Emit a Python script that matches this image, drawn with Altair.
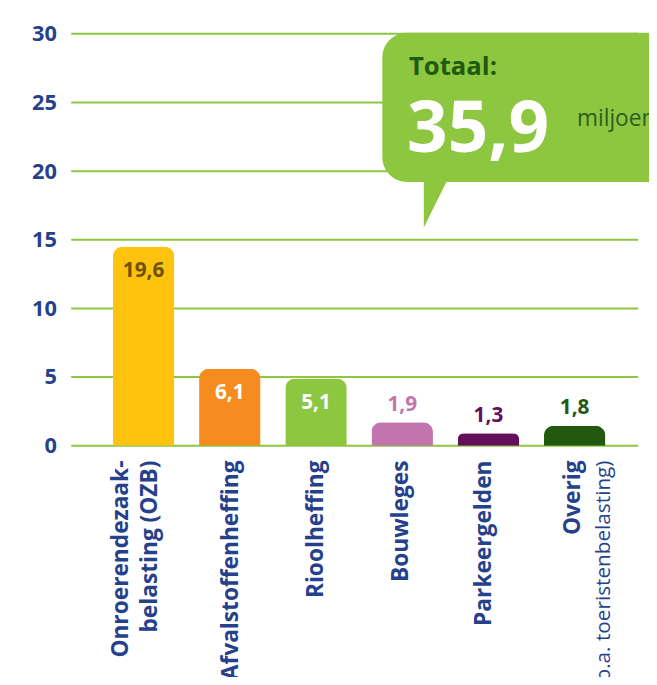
import altair as alt
import pandas as pd

# ---- data ----
cat_keys = ["OZB", "Afval", "Riool", "Bouw", "Parkeer", "Overig"]
bar_heights = [14.5, 5.6, 4.9, 1.7, 0.9, 1.45]          # drawn bar heights
value_labels = ["19,6", "6,1", "5,1", "1,9", "1,3", "1,8"]
bar_colors = ["#fec20f", "#f68c1f", "#8dc63f", "#c174ad", "#640f5c", "#22590f"]
value_label_colors = ["#6b5300", "#ffffff", "#ffffff", "#c174ad", "#640f5c", "#22590f"]
label_inside = [True, True, True, False, False, False]
y_ticks = [0, 5, 10, 15, 20, 25, 30]
total_title = "Totaal:"
total_value = "35,9"
total_unit = "miljoen"

# category label lines: (key, text, offset across, weight, size)
cat_lines = [
    ("OZB", "Onroerendezaak-", -23, "bold", 23),
    ("OZB", "belasting (OZB)", 7, "bold", 23),
    ("Afval", "Afvalstoffenheffing", 1, "bold", 23),
    ("Riool", "Rioolheffing", 0, "bold", 23),
    ("Bouw", "Bouwleges", -1, "bold", 23),
    ("Parkeer", "Parkeergelden", -4, "bold", 23),
    ("Overig", "Overig", -2, "bold", 23),
    ("Overig", "(o.a. toeristenbelasting)", 30, "normal", 21),
]

NAVY = "#26418c"
GREEN = "#8dc63f"
DARKGREEN = "#1f5a12"
FONT = "Open Sans"

W, H = 585, 417

df = pd.DataFrame({
    "cat": cat_keys,
    "h": bar_heights,
    "lab": value_labels,
    "col": bar_colors,
    "lcol": value_label_colors,
    "inside": label_inside,
})
grid_df = pd.DataFrame({"v": y_ticks})
one = pd.DataFrame({"t": [0]})

xscale = alt.Scale(domain=cat_keys, range=[0, 583], paddingInner=0.287, paddingOuter=0.483)
yscale = alt.Scale(domain=[0, 30])

grid = alt.Chart(grid_df).mark_rule(color=GREEN, strokeWidth=2).encode(
    y=alt.Y("v:Q", scale=yscale,
            axis=alt.Axis(values=y_ticks, title=None, domain=False, ticks=False, grid=False,
                          labelFont=FONT, labelFontSize=22, labelFontWeight="bold",
                          labelColor=NAVY, labelPadding=15)),
    x=alt.value(0), x2=alt.value(574),
)

base = alt.Chart(df).encode(
    x=alt.X("cat:N", scale=xscale, axis=None, sort=cat_keys),
)

bars = base.mark_bar(cornerRadiusTopLeft=10, cornerRadiusTopRight=10).encode(
    y=alt.Y("h:Q", scale=yscale),
    color=alt.Color("col:N", scale=None),
)

lab_in = base.transform_filter("datum.inside").mark_text(
    font=FONT, fontSize=21, fontWeight="bold", baseline="middle", dy=25
).encode(y=alt.Y("h:Q", scale=yscale), text="lab:N", color=alt.Color("lcol:N", scale=None))

lab_out = base.transform_filter("!datum.inside").mark_text(
    font=FONT, fontSize=21, fontWeight="bold", baseline="middle", dy=-18
).encode(y=alt.Y("h:Q", scale=yscale), text="lab:N", color=alt.Color("lcol:N", scale=None))

layers = [grid, bars, lab_in, lab_out]

for i, (k, txt, off, wt, fs) in enumerate(cat_lines):
    d = pd.DataFrame({"cat": [k], "txt": [txt]})
    layers.append(
        alt.Chart(d).mark_text(font=FONT, fontSize=fs, fontWeight=wt, color=NAVY,
                               angle=270, align="right", baseline="middle", dy=off).encode(
            x=alt.X("cat:N", scale=xscale, axis=None, sort=cat_keys),
            y=alt.value(H + 15),
            text="txt:N",
        )
    )

# callout box
box = alt.Chart(one).mark_rect(color=GREEN, cornerRadiusTopLeft=25, cornerRadiusBottomLeft=25).encode(
    x=alt.value(315), x2=alt.value(W + 10), y=alt.value(-1), y2=alt.value(150)
)
tail = alt.Chart(one).mark_point(
    shape="M-0.52,-1.1L0.52,-1.1L-0.52,1Z", filled=True, color=GREEN, opacity=1, size=2304, strokeWidth=0
).encode(x=alt.value(369.5), y=alt.value(172))
t1 = alt.Chart(one).mark_text(font=FONT, fontSize=26, fontWeight="bold", color=DARKGREEN,
                              align="left", baseline="alphabetic").encode(
    x=alt.value(342), y=alt.value(42), text=alt.value(total_title))
t2 = alt.Chart(one).mark_text(font=FONT, fontSize=72, fontWeight="bold", color="#ffffff",
                              align="left", baseline="alphabetic").encode(
    x=alt.value(340), y=alt.value(120), text=alt.value(total_value))
t3 = alt.Chart(one).mark_text(font=FONT, fontSize=23, fontWeight="normal", color="#2d5e1c",
                              align="left", baseline="alphabetic").encode(
    x=alt.value(512), y=alt.value(93), text=alt.value(total_unit))

layers += [box, tail, t1, t2, t3]

chart = alt.layer(*layers).properties(
    width=W, height=H,
    autosize=alt.AutoSizeParams(type="none"),
    padding={"left": 64, "top": 22, "right": 0, "bottom": 230},
).configure_view(stroke=None)

chart.save("out.html", embed_options={"renderer": "svg", "actions": False})
